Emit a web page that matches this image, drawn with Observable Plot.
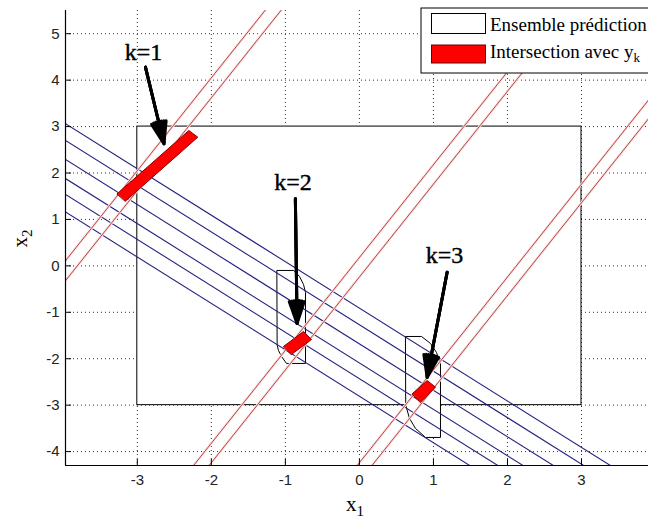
<!DOCTYPE html>
<html><head><meta charset="utf-8">
<script src="https://cdn.jsdelivr.net/npm/d3@7"></script>
<script src="https://cdn.jsdelivr.net/npm/@observablehq/plot@0.6"></script>
<style>
body{margin:0;background:#fff}
#chart{position:relative;width:648px;height:523px;overflow:hidden}
</style>
</head><body><div id="chart"></div>
<script>
// ---- data ----
const xDomain = [-3.97, 3.905];
const yDomain = [-4.3, 5.5];
const xTicks = [-3, -2, -1, 0, 1, 2, 3];
const yTicks = [-4, -3, -2, -1, 0, 1, 2, 3, 4, 5];

const predictionBox = [{x1: -3, x2: 3, y1: -3, y2: 3}];

// blue strips: x2 = blueSlope * x1 + c
const blueSlope = -1;
const blueIntercepts = [-0.91, -1.27, -1.68, -2.09, -2.43, -2.81];
// red strips: x2 = redSlope * x1 + b
const redSlope = 2;
const redIntercepts = [8.05, 7.62, 0.18, -0.24, -4.24, -4.64];

// intersection patches (red)
const patchK1 = [[-3.272, 1.553], [-2.304, 2.916], [-2.183, 2.772], [-3.160, 1.394]];
const patchK2 = [[-1.025, -1.736], [-0.755, -1.413], [-0.647, -1.585], [-0.917, -1.908]];
const patchK3 = [[0.713, -2.755], [0.916, -2.470], [1.028, -2.614], [0.825, -2.937]];

// local prediction sets (black outlines)
const setK2 = [[-1.110, -0.099], [-0.886, -0.099], [-0.809, -0.228], [-0.755, -0.401], [-0.728, -0.573],
               [-0.728, -2.102], [-0.985, -2.102], [-1.052, -1.951], [-1.093, -1.822], [-1.110, -1.714]];
const setK3 = [[0.627, -1.521], [0.839, -1.521], [0.960, -1.671], [1.041, -1.865], [1.095, -2.102],
               [1.095, -3.696], [0.893, -3.696], [0.758, -3.502], [0.677, -3.287], [0.627, -3.007]];

const kLabels = ["k=1", "k=2", "k=3"];
const kLabelX = [-2.916, -0.897, 1.150];
const kLabelY = [4.59, 1.79, 0.217];
const arrowStartX = [-2.89, -0.865, 1.185];
const arrowStartY = [4.28, 1.444, -0.138];
const arrowEndX = [-2.64, -0.842, 0.915];
const arrowEndY = [2.63, -1.24, -2.401];

const legendLabels = ["Ensemble prédiction", "Intersection avec y"];

// ---- tables built from the arrays ----
const xs = [-6, 6];
const blueSegs = blueIntercepts.map(c => ({x1: xs[0], y1: blueSlope * xs[0] + c, x2: xs[1], y2: blueSlope * xs[1] + c}));
const redSegs = redIntercepts.map(b => ({x1: xs[0], y1: redSlope * xs[0] + b, x2: xs[1], y2: redSlope * xs[1] + b}));
const toPts = (arr, id) => arr.map(([x, y]) => ({id, x, y}));
const patches = [...toPts(patchK1, "k1"), ...toPts(patchK2, "k2"), ...toPts(patchK3, "k3")];
const sets = [...toPts(setK2, "k2"), ...toPts(setK3, "k3")];
const labels = kLabels.map((t, i) => ({t, x: kLabelX[i], y: kLabelY[i]}));
const arrows = kLabels.map((t, i) => ({x1: arrowStartX[i], y1: arrowStartY[i], x2: arrowEndX[i], y2: arrowEndY[i]}));

const plot = Plot.plot({
  width: 648, height: 523,
  marginLeft: 65, marginRight: 0, marginTop: 10, marginBottom: 58,
  x: {domain: xDomain, label: null},
  y: {domain: yDomain, label: null},
  style: {fontFamily: "Liberation Sans", fontSize: "15px", background: "white", color: "black"},
  marks: [
    Plot.gridX(xTicks, {stroke: "#333", strokeOpacity: 1, strokeDasharray: "1,3"}),
    Plot.gridY(yTicks, {stroke: "#333", strokeOpacity: 1, strokeDasharray: "1,3"}),
    Plot.rect(predictionBox, {x1: "x1", x2: "x2", y1: "y1", y2: "y2", fill: "white", stroke: "black", strokeWidth: 1}),
    Plot.line(sets, {x: "x", y: "y", z: "id", curve: "linear-closed", fill: "white", stroke: "black", strokeWidth: 1}),
    Plot.link(blueSegs, {x1: "x1", y1: "y1", x2: "x2", y2: "y2", stroke: "#22227f", strokeWidth: 1.1, clip: true}),
    Plot.link(redSegs, {x1: "x1", y1: "y1", x2: "x2", y2: "y2", stroke: "#f7e2e2", strokeWidth: 2.6, clip: true}),
    Plot.link(redSegs, {x1: "x1", y1: "y1", x2: "x2", y2: "y2", stroke: "#b83030", strokeWidth: 0.9, clip: true}),
    Plot.line(patches, {x: "x", y: "y", z: "id", curve: "linear-closed", fill: "#ff0000", stroke: "#8b0000", strokeWidth: 1}),
    Plot.ruleX([xDomain[0]], {stroke: "black", strokeWidth: 1.2}),
    Plot.ruleY([yDomain[0]], {stroke: "black", strokeWidth: 1.2}),
    Plot.axisX(xTicks, {tickSize: -6, tickFormat: () => "", stroke: "black"}),
    Plot.axisY(yTicks, {tickSize: -6, tickFormat: () => "", stroke: "black"}),
    Plot.axisX(xTicks, {tickSize: 0, tickPadding: 9, tickFormat: d => String(d), fontSize: 15, fill: "#222"}),
    Plot.axisY(yTicks, {tickSize: 0, tickPadding: 6, tickFormat: d => String(d), fontSize: 15, fill: "#222"}),
    ...[38, 26, 14].map(a => Plot.arrow(arrows, {x1: "x1", y1: "y1", x2: "x2", y2: "y2", stroke: "black", strokeWidth: 3, headLength: 11.5, headAngle: a})),
    Plot.text(labels, {x: "x", y: "y", text: "t", fontFamily: "Liberation Serif", fontSize: 24, fill: "black", stroke: "black", strokeWidth: 0.4})
  ]
});

document.getElementById("chart").appendChild(plot);

// axis titles and legend drawn into the SVG
const svg = d3.select(plot);
const sx = plot.scale("x"), sy = plot.scale("y");
const serif = "Liberation Serif";

const xl = svg.append("text").attr("x", sx.apply(0) - 4).attr("y", 511)
  .attr("text-anchor", "middle").attr("font-family", serif).attr("font-size", 21).attr("fill", "black");
xl.append("tspan").text("x");
xl.append("tspan").attr("font-size", 15).attr("dy", 5).text("1");

const ycy = (sy.apply(yDomain[0]) + sy.apply(yDomain[1])) / 2 + 1;
const yl = svg.append("text").attr("transform", `translate(27,${ycy}) rotate(-90)`)
  .attr("text-anchor", "middle").attr("font-family", serif).attr("font-size", 21).attr("fill", "black");
yl.append("tspan").text("x");
yl.append("tspan").attr("font-size", 15).attr("dy", 5).text("2");

const lg = svg.append("g").attr("text-anchor", "start");
lg.append("rect").attr("x", 421).attr("y", 8).attr("width", 280).attr("height", 65)
  .attr("fill", "white").attr("stroke", "black").attr("stroke-width", 1);
lg.append("rect").attr("x", 431.5).attr("y", 13.5).attr("width", 54).attr("height", 20)
  .attr("fill", "white").attr("stroke", "black").attr("stroke-width", 1);
lg.append("rect").attr("x", 431.5).attr("y", 45).attr("width", 54).attr("height", 18)
  .attr("fill", "#ff0000").attr("stroke", "#6b0000").attr("stroke-width", 1);
lg.append("text").attr("x", 490).attr("y", 31).attr("text-anchor", "start").attr("font-family", serif).attr("font-size", 19)
  .attr("fill", "black").text(legendLabels[0]);
const t2 = lg.append("text").attr("x", 490).attr("y", 58).attr("text-anchor", "start").attr("font-family", serif).attr("font-size", 19).attr("fill", "black");
t2.append("tspan").text(legendLabels[1]);
t2.append("tspan").attr("font-size", 13).attr("dy", 4).text("k");
</script>
</body></html>
